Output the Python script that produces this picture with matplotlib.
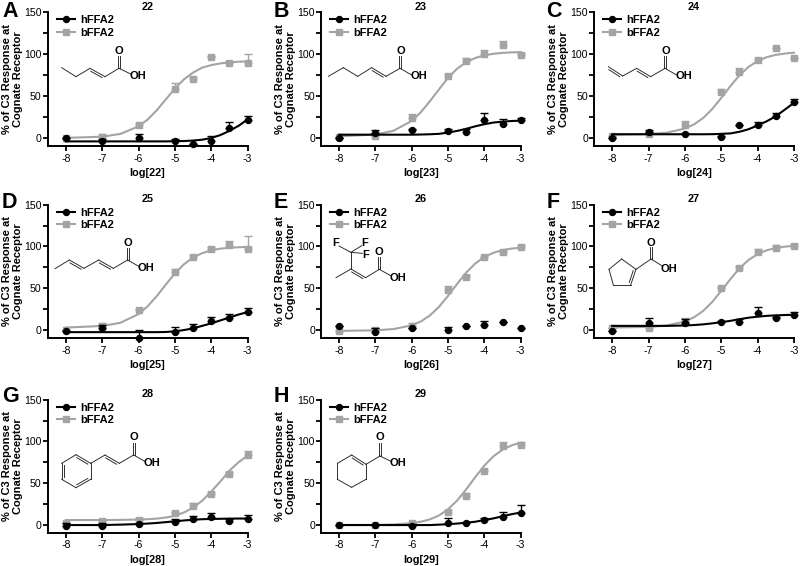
import matplotlib
matplotlib.use('Agg')
import matplotlib.pyplot as plt
from matplotlib.lines import Line2D
import numpy as np

plt.rcParams['font.family'] = ['Liberation Sans', 'DejaVu Sans']
plt.rcParams['axes.unicode_minus'] = False

W, H = 800, 566
GRAY = '#a4a4a4'
BLACK = '#000000'

compounds = ['22', '23', '24', '25', '26', '27', '28', '29']
letters = ['A', 'B', 'C', 'D', 'E', 'F', 'G', 'H']
legend_names = ['hFFA2', 'bFFA2']
x_ticks = [-8, -7, -6, -5, -4, -3]
y_ticks = [0, 50, 100, 150]
y_minor = [25, 75, 125]

# measured points
x_points = [-8, -7, -6, -5, -4.5, -4, -3.5, -3]
h_vals = [
    [0, -3, 0, -4, -7, -3, 12, 22],
    [0, 6, 9, 8, 7, 22, 17, 21],
    [0, 7, 5, 1, 16, 16, 26, 43],
    [-1, 3, -9, -2, 3, 11, 15, 22],
    [5, -2, 2, 0, 5, 6, 10, 2],
    [-1, 8, 8, 10, 10, 20, 15, 18],
    [-1, -1, 1, 4, 7, 10, 5, 7],
    [0, 0, -1, 3, 2, 6, 10, 15],
]
h_errs = [
    [0, 2, 5, 3, 0, 6, 7, 4],
    [0, 4, 2, 3, 4, 8, 6, 3],
    [0, 2, 1, 1, 0, 3, 4, 3],
    [0, 3, 9, 6, 4, 5, 4, 4],
    [0, 4, 1, 4, 0, 5, 0, 0],
    [0, 6, 5, 1, 3, 7, 1, 4],
    [3, 3, 1, 3, 4, 5, 2, 5],
    [0, 0, 2, 6, 2, 3, 6, 9],
]
b_vals = [
    [0, 1, 15, 58, 70, 97, 90, 90],
    [1, 3, 24, 74, 92, 100, 111, 99],
    [2, 5, 15, 55, 79, 93, 107, 95],
    [0, 5, 24, 70, 88, 97, 102, 97],
    [-1, 0, 5, 48, 64, 87, 94, 99],
    [2, 3, 10, 50, 74, 93, 98, 101],
    [2, 5, 6, 14, 23, 37, 61, 84],
    [0, 0, 2, 16, 35, 65, 95, 96],
]
b_errs = [
    [0, 4, 3, 8, 3, 1, 1, 10],
    [0, 2, 5, 2, 3, 5, 5, 3],
    [0, 2, 5, 3, 5, 2, 1, 1],
    [0, 3, 1, 3, 2, 2, 4, 15],
    [0, 2, 3, 5, 2, 1, 1, 3],
    [0, 1, 5, 1, 3, 4, 4, 2],
    [1, 1, 2, 2, 3, 2, 2, 5],
    [0, 0, 1, 2, 3, 2, 4, 3],
]

# fitted curves
curve_x = [-8, -7, -6.5, -6, -5.75, -5.5, -5.25, -5, -4.75, -4.5, -4.25, -4, -3.75, -3.5, -3.25, -3]
h_curves = [
    [-4, -4, -4, -4, -4, -4, -4, -3.8, -3.6, -3, -2, 0, 3.5, 8.5, 14.5, 22],
    [4, 4, 4, 4, 4.2, 4.5, 5, 6.5, 8.5, 11, 14, 16.5, 18.5, 19.5, 20.3, 20.8],
    [4.5, 4.5, 4.5, 4.5, 4.5, 4.5, 4.6, 5, 5.5, 7.5, 10.5, 15, 20, 26, 34, 42],
    [-2.5, -2.5, -2.5, -2.5, -2.5, -2.5, -2.3, -1.5, 0, 2, 5, 8, 11.5, 15, 18.5, 21.5],
    None,
    [5, 5, 5, 5.5, 6, 6.8, 8, 9.5, 11, 13, 14.8, 16, 17, 17.6, 18, 18.3],
    [0, 0, 0.5, 1.2, 1.8, 2.5, 3.5, 4.5, 5.5, 6.3, 7, 7.3, 7.5, 7.7, 7.8, 7.8],
    [0, 0, 0, 0, 0, 0, 0.5, 1, 1.8, 2.8, 4, 6, 8, 10.5, 13, 15],
]
b_curves = [
    [0.2, 1.6, 4.9, 13.9, 22, 33, 46, 59, 70, 78, 84, 87, 89, 90.4, 91, 91.5],
    [2, 4.2, 8.7, 20.5, 30.8, 44, 58, 72, 82.7, 90.5, 95.5, 98.7, 100.5, 101.6, 102.2, 102.5],
    [4, 4.8, 6.4, 11.3, 16.3, 23.8, 34.6, 47.9, 61.9, 74.8, 84.9, 91.9, 96.5, 99.2, 100.8, 101.8],
    [3, 4.9, 8.7, 19.1, 28.4, 40.5, 54.3, 67.6, 78.7, 86.7, 92, 95.3, 97.4, 98.4, 99.1, 99.5],
    [-1, -0.3, 1.2, 5.7, 10.3, 17.5, 27.8, 41, 55.3, 68.8, 79.7, 87.5, 92.5, 95.7, 97.5, 98.6],
    [3, 3.8, 5.4, 10.3, 15.3, 22.8, 33.6, 46.9, 60.9, 73.8, 83.9, 90.9, 95.5, 98.2, 99.8, 100.8],
    [6, 6, 6.2, 6.6, 7, 7.7, 9, 11, 15, 20.8, 29, 40, 52, 65, 75, 83],
    [0.1, 0.2, 0.7, 2.3, 4, 6.8, 11.5, 18.9, 29.4, 42.7, 57.4, 71.2, 82.3, 90.2, 95.4, 98.6],
]

# panel frames in pixels: left, right, top, bottom
lefts = [47.7, 321, 594]
rights = [247.5, 520.7, 794]
tops = [12.3, 204.7, 399.7]
bottoms = [146, 338, 533]
letter_x = [2, 273.5, 546.5]
letter_y = [11, 202, 396]

# molecule sketches, in pixels of the 3x zoom, relative to each offset
offsets = [(0, 0), (270, 0), (530, 0), (0, 190), (270, 190), (530, 190), (0, 380), (270, 380)]
single_bonds = [
    [(185, 203, 228, 230), (228, 230, 270, 205), (315, 230, 357, 205), (357, 205, 392, 222)],
    [(175, 229, 220, 203), (220, 203, 263, 229), (263, 229, 305, 203), (348, 229, 390, 205), (390, 205, 425, 225)],
    [(278, 228, 320, 205), (362, 230, 405, 205), (405, 205, 440, 225)],
    [(165, 236, 208, 210), (252, 235, 296, 210), (340, 235, 383, 210), (383, 210, 418, 230)],
    [(198, 263, 243, 237), (287, 263, 328, 238), (328, 238, 362, 257), (243, 237, 243, 187),
     (243, 187, 207, 168), (243, 187, 275, 167), (243, 187, 277, 190)],
    [(275, 207, 318, 238), (302, 285, 250, 285), (250, 285, 237, 238), (237, 238, 275, 207),
     (318, 238, 363, 207), (363, 207, 397, 228)],
    [(272, 250, 272, 298), (228, 323, 185, 298), (185, 250, 228, 224), (272, 250, 315, 225),
     (358, 250, 401, 225), (401, 225, 436, 245)],
    [(288, 253, 288, 298), (288, 298, 245, 322), (245, 322, 202, 298), (202, 298, 202, 250),
     (202, 250, 245, 225), (288, 253, 330, 228), (330, 228, 365, 245)],
]
# double bonds: last number picks the side of the second stroke
double_bonds = [
    [(270, 205, 315, 230, 1)],
    [(305, 203, 348, 229, 1)],
    [(235, 200, 278, 228, 1), (320, 205, 362, 230, 1)],
    [(208, 210, 252, 235, 1), (296, 210, 340, 235, 1)],
    [(243, 237, 287, 263, 1)],
    [(318, 238, 302, 285, 1)],
    [(315, 225, 358, 250, 1), (185, 298, 185, 250, 1), (272, 298, 228, 323, 1), (228, 224, 272, 250, 1)],
    [(245, 225, 288, 253, 1)],
]
carbonyls = [
    (357, 205, 357, 168), (390, 205, 390, 168), (405, 205, 405, 168), (383, 210, 383, 175),
    (328, 238, 328, 202), (363, 207, 363, 172), (401, 225, 401, 188), (330, 228, 330, 190),
]
atoms = [
    [('O', 358, 152), ('OH', 413, 228)],
    [('O', 393, 152), ('OH', 447, 228)],
    [('O', 408, 152), ('OH', 463, 228)],
    [('O', 383, 160), ('OH', 438, 235)],
    [('O', 328, 187), ('OH', 383, 263), ('F', 198, 160), ('F', 285, 160), ('F', 287, 195)],
    [('O', 362, 160), ('OH', 416, 236)],
    [('O', 402, 172), ('OH', 456, 250)],
    [('O', 330, 172), ('OH', 385, 248)],
]

fig = plt.figure(figsize=(W / 100, H / 100), dpi=100)


def fig_xy(px, py):
    return px / W, 1 - py / H


def add_bond(x0, y0, x1, y1):
    a = fig_xy(x0, y0)
    b = fig_xy(x1, y1)
    fig.add_artist(Line2D([a[0], b[0]], [a[1], b[1]], color='#222222', lw=0.65, zorder=5))


for i, name in enumerate(compounds):
    row, col = i // 3, i % 3
    l, r, t, b = lefts[col], rights[col], tops[row], bottoms[row]
    ax = fig.add_axes([l / W, 1 - b / H, (r - l) / W, (b - t) / H])
    ax.patch.set_alpha(0)

    # grey series goes under the black one
    ax.errorbar(x_points, b_vals[i], yerr=[np.zeros(8), b_errs[i]], fmt='none', ecolor=GRAY,
                elinewidth=1, capsize=2.6, capthick=1, clip_on=False, zorder=2)
    ax.plot(curve_x, b_curves[i], color=GRAY, lw=1.5, clip_on=False, zorder=2)
    ax.plot(x_points, b_vals[i], 's', color=GRAY, ms=4.2, clip_on=False, zorder=2)

    ax.errorbar(x_points, h_vals[i], yerr=[np.zeros(8), h_errs[i]], fmt='none', ecolor=BLACK,
                elinewidth=1, capsize=2.6, capthick=1, clip_on=False, zorder=3)
    if h_curves[i] is not None:
        ax.plot(curve_x, h_curves[i], color=BLACK, lw=1.5, clip_on=False, zorder=3)
    ax.plot(x_points, h_vals[i], 'o', color=BLACK, ms=4.3, clip_on=False, zorder=3)

    ax.set_xlim(-8.5, -3)
    ax.set_ylim(-9.5, 150)
    ax.set_xticks(x_ticks)
    ax.set_yticks(y_ticks)
    ax.set_yticks(y_minor, minor=True)
    ax.tick_params(axis='x', which='major', labelsize=7.6, length=3.4, width=1.3, pad=2)
    ax.tick_params(axis='y', which='major', labelsize=7.6, length=3.4, width=1.3, pad=1)
    ax.tick_params(axis='y', which='minor', length=3.4, width=1.3)
    ax.spines['top'].set_visible(False)
    ax.spines['right'].set_visible(False)
    ax.spines['left'].set_linewidth(1.4)
    ax.spines['bottom'].set_linewidth(1.4)

    ax.set_xlabel('log[%s]' % name, fontsize=7.8, fontweight='bold', va='center')
    ax.xaxis.set_label_coords(0.5, -27 / (b - t))
    ax.set_ylabel('% of C3 Response at\nCognate Receptor', fontsize=8, fontweight='bold',
                  va='center', ha='center', linespacing=1.15)
    ax.yaxis.set_label_coords(-35.5 / (r - l), 0.5)
    ax.text(0.5, 1 + 5.5 / (b - t), name, transform=ax.transAxes, fontsize=7.8, fontweight='bold',
            ha='center', va='center')

    handles = [
        Line2D([], [], color=BLACK, lw=1.5, marker='o', ms=4.3),
        Line2D([], [], color=GRAY, lw=1.5, marker='s', ms=4.2),
    ]
    ax.legend(handles, legend_names, loc='upper left', bbox_to_anchor=(9 / (r - l), 1 - 3 / (b - t)),
              frameon=False, borderpad=0, borderaxespad=0, handlelength=1.65, handletextpad=0.45,
              labelspacing=0.24, prop={'size': 8, 'weight': 'bold'})

    fig.text(letter_x[col] / W, 1 - (letter_y[row] + 0.5) / H, letters[i], fontsize=15.5, fontweight='bold',
             ha='left', va='center')

    # structure drawing
    ox, oy = offsets[i]
    for x0, y0, x1, y1 in single_bonds[i]:
        add_bond(ox + x0 / 3, oy + y0 / 3, ox + x1 / 3, oy + y1 / 3)
    for x0, y0, x1, y1, side in double_bonds[i]:
        add_bond(ox + x0 / 3, oy + y0 / 3, ox + x1 / 3, oy + y1 / 3)
        dx, dy = x1 - x0, y1 - y0
        n = np.hypot(dx, dy)
        nx, ny = -dy / n * side * 2.2, dx / n * side * 2.2
        add_bond(ox + (x0 + 0.12 * dx) / 3 + nx, oy + (y0 + 0.12 * dy) / 3 + ny,
                 ox + (x1 - 0.12 * dx) / 3 + nx, oy + (y1 - 0.12 * dy) / 3 + ny)
    x0, y0, x1, y1 = carbonyls[i]
    add_bond(ox + x0 / 3 - 1.1, oy + y0 / 3, ox + x1 / 3 - 1.1, oy + y1 / 3)
    add_bond(ox + x0 / 3 + 1.1, oy + y0 / 3, ox + x1 / 3 + 1.1, oy + y1 / 3)
    for label, ax_x, ax_y in atoms[i]:
        tx, ty = fig_xy(ox + ax_x / 3, oy + ax_y / 3)
        fig.text(tx, ty, label, fontsize=8, fontweight='bold', ha='center', va='center', zorder=6)

fig.savefig('out.png', dpi=100)
